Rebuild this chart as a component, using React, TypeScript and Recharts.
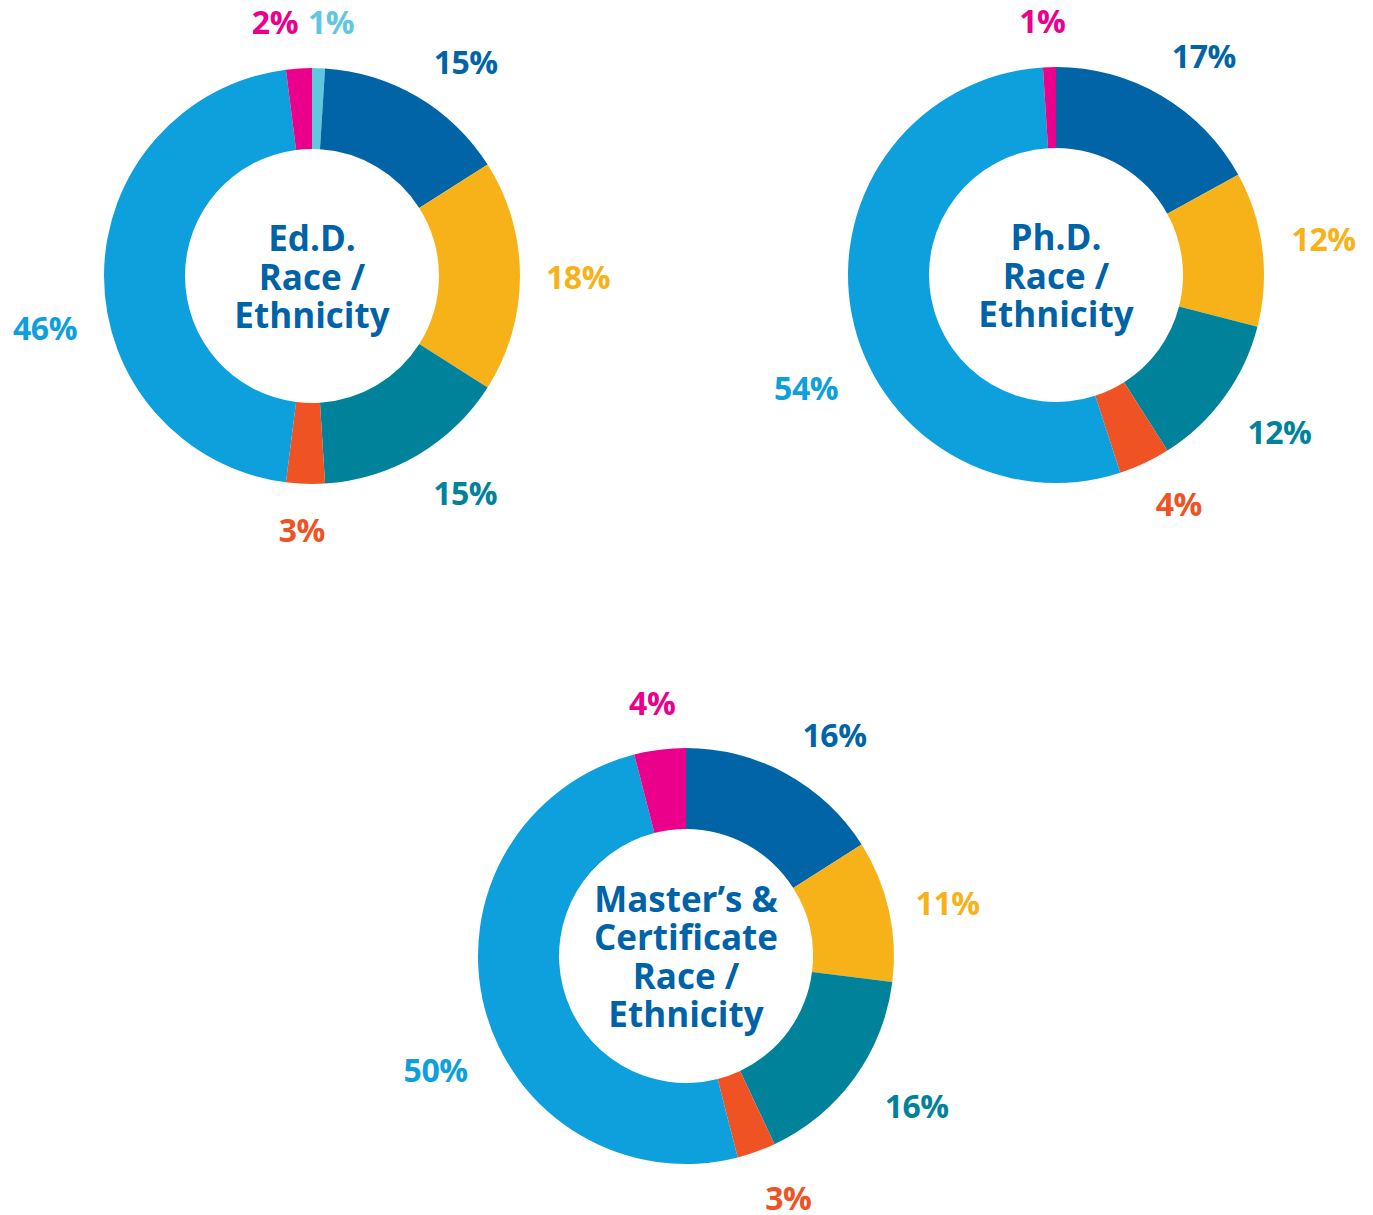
import { PieChart, Pie, Cell, Label } from "recharts";

const edLabels = ["1%", "15%", "18%", "15%", "3%", "46%", "2%"];
const edValues = [1, 15, 18, 15, 3, 46, 2];
const edColors = ["#5FC8E0", "#0064A7", "#F8B219", "#00839A", "#F05323", "#0DA0DC", "#EB008B"];

const phdLabels = ["17%", "12%", "12%", "4%", "54%", "1%"];
const phdValues = [17, 12, 12, 4, 54, 1];
const phdColors = ["#0064A7", "#F8B219", "#00839A", "#F05323", "#0DA0DC", "#EB008B"];

const msLabels = ["16%", "11%", "16%", "3%", "50%", "4%"];
const msValues = [16, 11, 16, 3, 50, 4];
const msColors = ["#0064A7", "#F8B219", "#00839A", "#F05323", "#0DA0DC", "#EB008B"];

const edTitle = ["Ed.D.", "Race /", "Ethnicity"];
const phdTitle = ["Ph.D.", "Race /", "Ethnicity"];
const msTitle = ["Master\u2019s &", "Certificate", "Race /", "Ethnicity"];

// label tweaks: [angle shift clockwise (deg), distance from centre]
const edNudge = [[2.5, 255], [5, 264], [0, 266], [-4.7, 265], [0.5, 254], [-11, 272], [-4.7, 257]];
const phdNudge = [[3.3, 265], [-0.5, 270], [-0.9, 273], [-3.1, 259], [-13.4, 274], [-1.3, 255]];
const msNudge = [[5, 267], [1, 267], [-3, 275], [-3.2, 262], [-10, 275], [-0.4, 256]];

const FONT = "'Open Sans', sans-serif";
const TITLE = "#0063A8";
const RAD = Math.PI / 180;

const toRows = (labels: string[], values: number[]) =>
  labels.map((label, i) => ({ label, value: values[i] }));

function makeLabel(colors: string[], nudge: number[][]) {
  return (props: any) => {
    const { cx, cy, midAngle, index, payload } = props;
    const [shift, dist] = nudge[index];
    const a = (midAngle - shift) * RAD;
    const x = cx + dist * Math.cos(a);
    const y = cy - dist * Math.sin(a);
    return (
      <text
        x={x}
        y={y}
        fill={colors[index]}
        textAnchor="middle"
        dominantBaseline="central"
        fontFamily={FONT}
        fontWeight={700}
        fontSize={32}
        letterSpacing={-0.5}
      >
        {payload.label}
      </text>
    );
  };
}

function centerTitle(lines: string[], cx: number, cy: number) {
  return () => {
    const lh = 38.5;
    const top = cy - ((lines.length - 1) * lh) / 2;
    return (
      <text
        textAnchor="middle"
        fill={TITLE}
        fontFamily={FONT}
        fontWeight={700}
        fontSize={35}
      >
        {lines.map((l, i) => (
          <tspan key={i} x={cx} y={top + i * lh} dominantBaseline="central">
            {l}
          </tspan>
        ))}
      </text>
    );
  };
}

const charts = [
  { rows: toRows(edLabels, edValues), colors: edColors, nudge: edNudge, title: edTitle, cx: 312, cy: 276 },
  { rows: toRows(phdLabels, phdValues), colors: phdColors, nudge: phdNudge, title: phdTitle, cx: 1056, cy: 275 },
  { rows: toRows(msLabels, msValues), colors: msColors, nudge: msNudge, title: msTitle, cx: 686, cy: 956 },
];

export default function App() {
  return (
    <div style={{ position: "absolute", left: 0, top: 0, background: "#fff" }}>
      <PieChart width={1373} height={1215} margin={{ top: 0, right: 0, bottom: 0, left: 0 }}>
        {charts.map((c, k) => (
          <Pie
            key={k}
            data={c.rows}
            dataKey="value"
            nameKey="label"
            cx={c.cx}
            cy={c.cy}
            innerRadius={127}
            outerRadius={208}
            startAngle={90}
            endAngle={-270}
            stroke="none"
            labelLine={false}
            label={makeLabel(c.colors, c.nudge)}
            isAnimationActive={false}
          >
            {c.rows.map((r, i) => (
              <Cell key={r.label + i} fill={c.colors[i]} />
            ))}
            <Label position="center" content={centerTitle(c.title, c.cx, c.cy)} />
          </Pie>
        ))}
      </PieChart>
    </div>
  );
}
